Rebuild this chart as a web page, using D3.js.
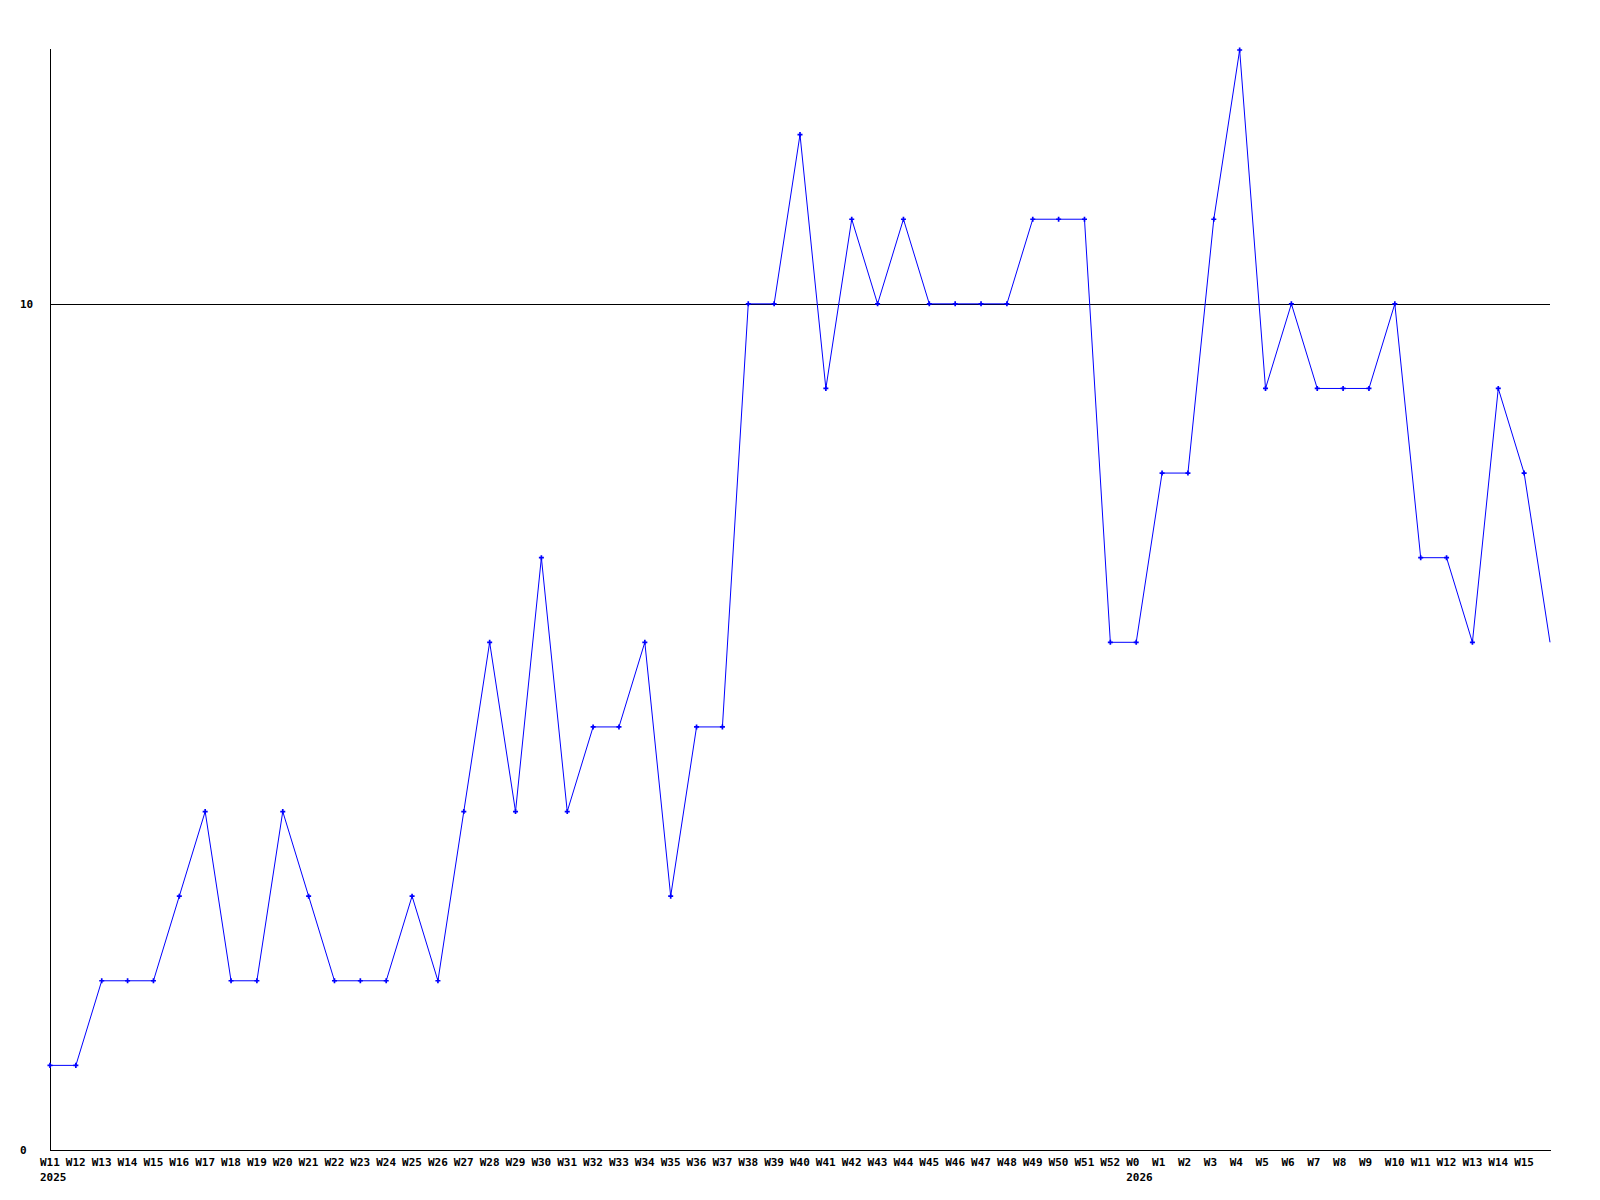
<!DOCTYPE html>
<html>
<head>
<meta charset="utf-8">
<script src="https://cdn.jsdelivr.net/npm/d3@7"></script>
<style>
  body { margin: 0; background: #fff; }
  text { font-family: "DejaVu Sans Mono", "Liberation Mono", monospace; font-size: 11px; font-weight: bold; fill: #000; }
</style>
</head>
<body>
<script>
// week labels along the x axis (last point has no label)
var weeks = ["W11","W12","W13","W14","W15","W16","W17","W18","W19","W20","W21","W22","W23","W24","W25","W26",
  "W27","W28","W29","W30","W31","W32","W33","W34","W35","W36","W37","W38","W39","W40","W41","W42","W43","W44",
  "W45","W46","W47","W48","W49","W50","W51","W52","W0","W1","W2","W3","W4","W5","W6","W7","W8","W9","W10",
  "W11","W12","W13","W14","W15",""];
var values = [1,1,2,2,2,3,4,2,2,4,3,2,2,2,3,2,
  4,6,4,7,4,5,5,6,3,5,5,10,10,12,9,11,10,11,
  10,10,10,10,11,11,11,6,6,8,8,11,13,9,10,9,9,9,10,
  7,7,6,9,8,6];
var years = [{index: 0, label: "2025"}, {index: 42, label: "2026"}];
var yTicks = [0, 10];

var width = 1600, height = 1200;
var plotLeft = 50, plotRight = 1550, plotTop = 50, plotBottom = 1150;

var svg = d3.select("body").append("svg")
  .attr("width", width)
  .attr("height", height);

var x = d3.scaleLinear().domain([0, values.length - 1]).range([plotLeft, plotRight]);
var y = d3.scaleLinear().domain([0, 13]).range([plotBottom, plotTop]);

// grid line at 10
svg.append("g")
  .selectAll("line.grid")
  .data(yTicks.filter(function(d) { return d > 0; }))
  .enter()
  .append("line")
  .attr("x1", plotLeft).attr("x2", plotRight)
  .attr("y1", function(d) { return Math.round(y(d)) + 0.5; })
  .attr("y2", function(d) { return Math.round(y(d)) + 0.5; })
  .attr("stroke", "#000")
  .attr("shape-rendering", "crispEdges");

// axes lines
svg.append("line")
  .attr("x1", plotLeft + 0.5).attr("x2", plotLeft + 0.5)
  .attr("y1", plotTop - 1).attr("y2", plotBottom)
  .attr("stroke", "#000").attr("shape-rendering", "crispEdges");
svg.append("line")
  .attr("x1", plotLeft).attr("x2", plotRight + 1)
  .attr("y1", plotBottom + 0.5).attr("y2", plotBottom + 0.5)
  .attr("stroke", "#000").attr("shape-rendering", "crispEdges");

// y labels
svg.append("g")
  .selectAll("text")
  .data(yTicks)
  .enter()
  .append("text")
  .attr("x", 20)
  .attr("y", function(d) { return y(d); })
  .attr("dy", "0.35em")
  .text(function(d) { return d; });

// x labels
svg.append("g")
  .selectAll("text")
  .data(weeks)
  .enter()
  .append("text")
  .attr("x", function(d, i) { return x(i) - 10; })
  .attr("y", plotBottom + 12)
  .attr("dy", "0.35em")
  .text(function(d) { return d; });

svg.append("g")
  .selectAll("text")
  .data(years)
  .enter()
  .append("text")
  .attr("x", function(d) { return x(d.index) - 10; })
  .attr("y", plotBottom + 27)
  .attr("dy", "0.35em")
  .text(function(d) { return d.label; });

// data line
var line = d3.line()
  .x(function(d, i) { return x(i); })
  .y(function(d) { return y(d); });

svg.append("path")
  .datum(values)
  .attr("d", line)
  .attr("fill", "none")
  .attr("stroke", "#0000ff")
  .attr("stroke-width", 1);

// markers
var marker = d3.symbol().type(d3.symbolCross).size(14);
svg.append("g")
  .selectAll("path.pt")
  .data(values.slice(0, values.length - 1))
  .enter()
  .append("path")
  .attr("d", marker)
  .attr("transform", function(d, i) { return "translate(" + x(i) + "," + y(d) + ")"; })
  .attr("fill", "#0000ff");
</script>
</body>
</html>
